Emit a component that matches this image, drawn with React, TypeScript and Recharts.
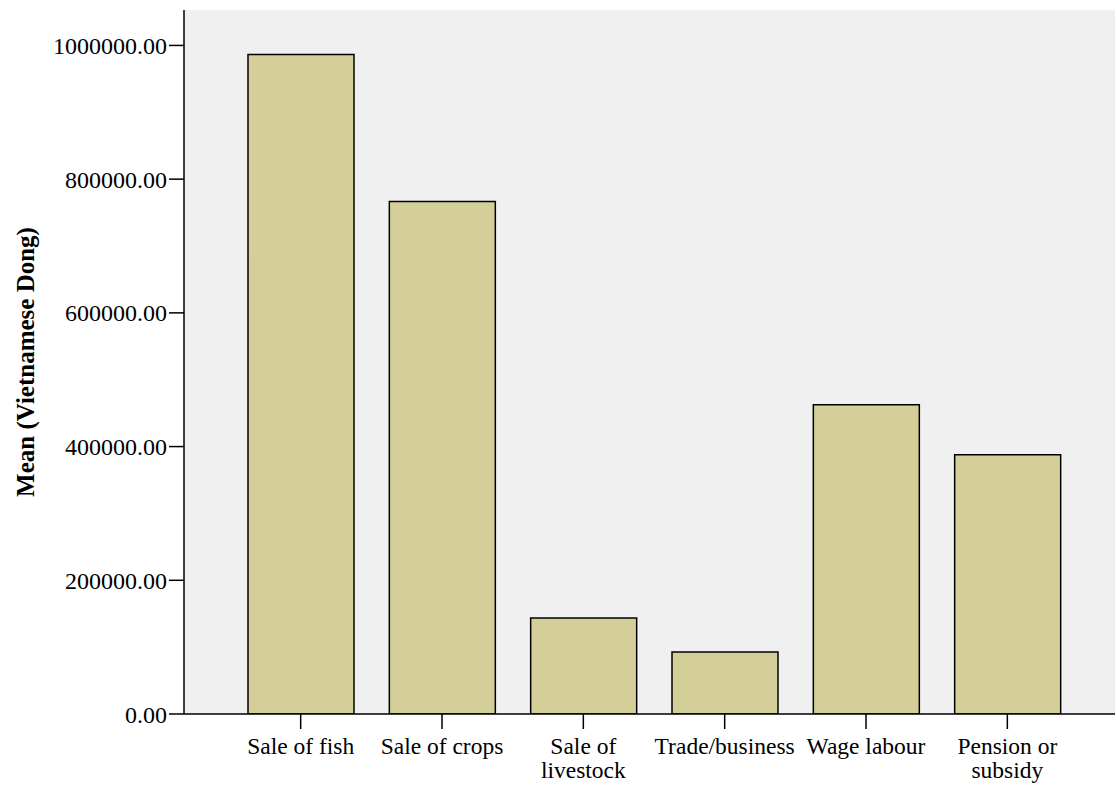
import { Bar, BarChart, CartesianGrid, XAxis, YAxis } from "recharts";

const categories = [
  "Sale of fish",
  "Sale of crops",
  "Sale of livestock",
  "Trade/business",
  "Wage labour",
  "Pension or subsidy",
];

// tick label lines as they wrap in the original
const categoryLines = [
  ["Sale of fish"],
  ["Sale of crops"],
  ["Sale of", "livestock"],
  ["Trade/business"],
  ["Wage labour"],
  ["Pension or", "subsidy"],
];

const meanValues = [986500, 766500, 143700, 92800, 462600, 387700];

const yTicks = [0, 200000, 400000, 600000, 800000, 1000000];

const data = categories.map((name, i) => ({
  name,
  value: meanValues[i],
}));

const font = "'Liberation Serif', 'Times New Roman', serif";

function CategoryTick({ x, y, payload }: any) {
  const lines = categoryLines[categories.indexOf(payload.value)] ?? [payload.value];
  return (
    <text
      x={x}
      y={y}
      textAnchor="middle"
      fill="#000"
      fontSize={23.5}
      fontFamily={font}
    >
      {lines.map((line: string, i: number) => (
        <tspan key={i} x={x} dy={i === 0 ? 23 : 24}>
          {line}
        </tspan>
      ))}
    </text>
  );
}

export default function App() {
  return (
    <div style={{ position: "absolute", left: 0, top: 0, fontFamily: font }}>
      <BarChart
        width={1116}
        height={785}
        data={data}
        margin={{ top: 10, right: 1, left: 0, bottom: 0 }}
        barSize={106}
      >
        <CartesianGrid fill="#f0f0f0" horizontal={false} vertical={false} />
        <XAxis
          dataKey="name"
          height={71}
          padding={{ left: 46, right: 37 }}
          tickSize={15}
          tickLine={{ stroke: "#000", strokeWidth: 1.5 }}
          axisLine={{ stroke: "#000", strokeWidth: 1.5 }}
          tick={<CategoryTick />}
          interval={0}
        />
        <XAxis
          xAxisId="top"
          dataKey="name"
          orientation="top"
          height={0}
          tick={false}
          tickLine={false}
          axisLine={{ stroke: "#000", strokeWidth: 1.5 }}
        />
        <YAxis
          width={184}
          domain={[0, 1053000]}
          ticks={yTicks}
          tickFormatter={(v: number) => v.toFixed(2)}
          tickSize={15}
          tickLine={{ stroke: "#000", strokeWidth: 1.5 }}
          axisLine={{ stroke: "#000", strokeWidth: 1.5 }}
          tick={{ fill: "#000", fontSize: 24, fontFamily: font }}
          allowDataOverflow
          label={{
            value: "Mean (Vietnamese Dong)",
            angle: -90,
            position: "insideLeft",
            offset: 25,
            textAnchor: "middle",
            fill: "#000",
            fontSize: 25,
            fontWeight: "bold",
            fontFamily: font,
          }}
        />
        <Bar
          dataKey="value"
          fill="#d4cf98"
          stroke="#000"
          strokeWidth={1.5}
          isAnimationActive={false}
        />
      </BarChart>
    </div>
  );
}
